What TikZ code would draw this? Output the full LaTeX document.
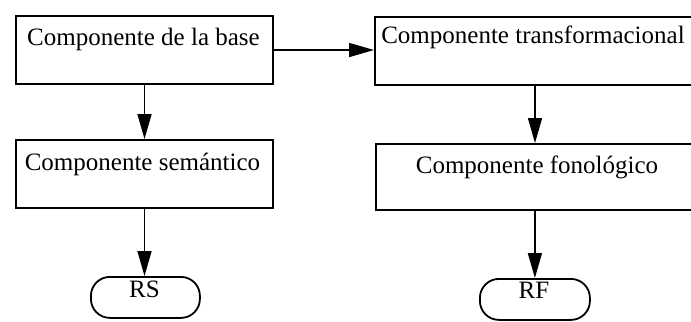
\documentclass[tikz,border=0pt]{standalone}
\usepackage{fontspec}
\setmainfont{Liberation Serif}
\usetikzlibrary{arrows.meta}
\tikzset{
  box/.style={draw, line width=2bp, inner sep=0pt, anchor=north west},
  lbl/.style={anchor=base, inner sep=0pt, font=\fontsize{25bp}{30bp}\selectfont},
  term/.style={draw, line width=1.8bp, rounded corners=19bp, inner sep=0pt, anchor=north west, minimum width=109bp, minimum height=41bp},
  arr/.style={line width=1.6bp, -{Triangle[length=25bp,width=14bp]}}
}
\begin{document}
\begin{tikzpicture}[x=1bp,y=-1bp]
\useasboundingbox (0,0) rectangle (691,321);
\clip (0,0) rectangle (691,321);
\node[box, minimum width=257bp, minimum height=68bp] (b1) at (15,15) {};
\node[box, minimum width=320bp, minimum height=68bp] (b2) at (374,16) {};
\node[box, minimum width=257bp, minimum height=68bp] (b3) at (15,139) {};
\node[box, minimum width=324bp, minimum height=66bp] (b4) at (375,143) {};
\node[lbl] (t1) at (143.5,45) {Componente de la base};
\node[lbl] (t2) at (533,43) {Componente transformacional};
\node[lbl] (t3) at (142.5,170) {Componente semántico};
\node[lbl] (t4) at (537,173) {Componente fonológico};
\node[term] (rs) at (90,276) {};
\node[term, minimum width=110bp] (rf) at (479,278) {};
\node[lbl] (trs) at (144.5,297) {RS};
\node[lbl] (trf) at (534,298) {RF};
\draw[arr] (b1.east) -- (b2.west |- b1.east);
\draw[arr] (b1.south) -- (b3.north);
\draw[arr] (b2.south) -- (b2.south |- b4.north);
\draw[arr] (b3.south) -- (b3.south |- rs.north);
\draw[arr] (rf.north |- b4.south) -- (rf.north);
\end{tikzpicture}
\end{document}
